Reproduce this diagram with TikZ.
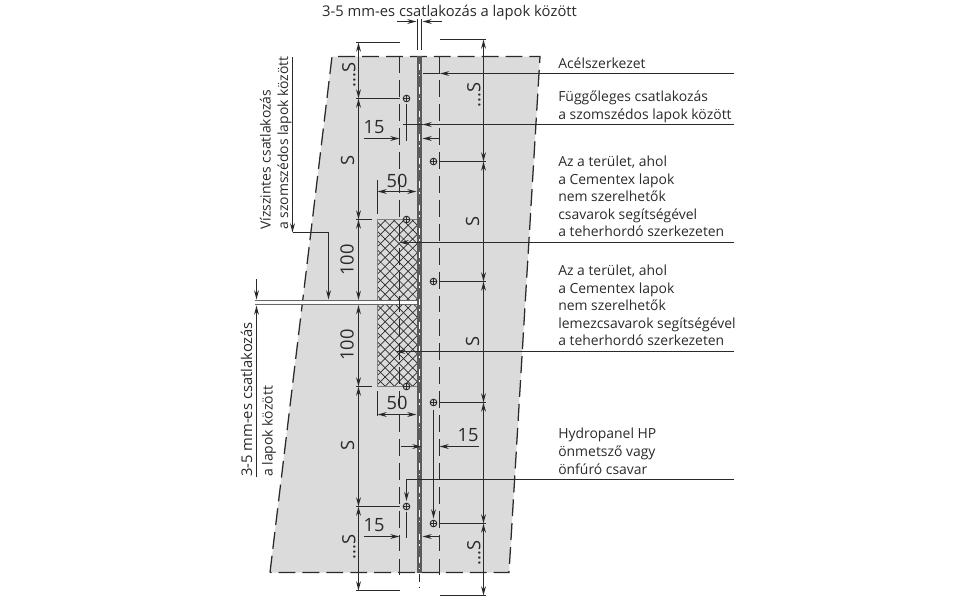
\documentclass[tikz,border=0pt]{standalone}
\usepackage{fontspec}
\setmainfont{Open Sans}
\usetikzlibrary{arrows.meta}
\definecolor{panelgray}{HTML}{DADBDA}
\definecolor{inkdark}{HTML}{2A2A2A}
\definecolor{bandgray}{HTML}{5A5A5A}
\tikzset{
	pline/.style={draw=inkdark,line width=1pt},
	lead/.style={pline,-{Stealth[length=6.5pt,width=3.4pt]}},
	dimboth/.style={pline,{Stealth[length=6.5pt,width=3.4pt]}-{Stealth[length=6.5pt,width=3.4pt]}},
	edge/.style={draw=inkdark,line width=0.9pt,dash pattern=on 12pt off 5pt},
	lbl/.style={anchor=base west,inner sep=0pt,font=\fontsize{9.9pt}{12pt}\selectfont,text=inkdark},
	lblwide/.style={lbl,font=\fontsize{10.5pt}{12pt}\selectfont},
	vlbl/.style={lbl,rotate=90},
	dimtxt/.style={inner sep=0pt,font=\fontsize{13pt}{14pt}\selectfont,text=inkdark},
	vdim/.style={dimtxt,rotate=90}
}
\begin{document}
\begin{tikzpicture}[x=0.025cm,y=-0.025cm]
	\useasboundingbox (0,0) rectangle (960,600);
	\fill[white] (0,0) rectangle (960,600);
	% panels
	\fill[panelgray] (332,56.5) -- (540,56.5) -- (509,572.5) -- (270,572.5) -- cycle;
	\draw[edge] (270,572.5) -- (332,56.5) -- (540,56.5) -- (509,572.5) -- cycle;
	% mesh area
	\begin{scope}
		\clip (377.5,219.5) rectangle (417.5,386.5);
		\foreach \i in {0,...,25} {
			\draw[inkdark,line width=0.5pt] (200+9.2*\i,219.5) -- ++(167,167);
			\draw[inkdark,line width=0.5pt] (377+9.2*\i,219.5) -- ++(-167,167);
		}
	\end{scope}
	\draw[gray,line width=0.6pt] (377.5,219.5) rectangle (417.5,386.5);
	% horizontal gap
	\fill[white!90!panelgray] (255,300.5) rectangle (418,304.5);
	\draw[gray!80!black,line width=1pt] (255,300.5) -- (418,300.5) (255,304.5) -- (418,304.5);
	% lines of the support
	\draw[edge] (399.5,56.5) -- (399.5,575);
	\draw[edge] (439.5,56.5) -- (439.5,575);
	\fill[bandgray] (417,56) rectangle (422,573);
	\draw[white,line width=0.6pt,dash pattern=on 4.5pt off 3pt on 1.2pt off 8pt] (419.5,64) -- (419.5,572);
	\draw[pline,dash pattern=on 6pt off 3pt on 1pt off 3pt] (419.5,574) -- (419.5,592);
	\draw[pline] (417.5,19) -- (417.5,50) (421.5,19) -- (421.5,50);
	% screws
	\foreach \name/\sx/\sy in {sa/406.5/98.5,sb/433.5/161.5,sc/406.5/219.5,sd/433.5/281.5,se/406.5/386.5,sf/433.5/402.5,sg/406.5/506.5,sh/433.5/523.5} {
		\coordinate (\name) at (\sx,\sy);
		\draw[inkdark,fill=panelgray,line width=0.7pt] (\name) circle (3.3);
		\draw[inkdark,line width=0.5pt] (\sx-3.3,\sy) -- (\sx+3.3,\sy) (\sx,\sy-3.3) -- (\sx,\sy+3.3);
	}
	% left chain of dimensions
	\foreach \ya/\yb in {42.5/98.5,98.5/219.5,219.5/300,305/386.5,386.5/506.5,506.5/590.5} {
		\draw[dimboth] (358.5,\ya) -- (358.5,\yb);
	}
	\draw[pline] (356,42.5) -- (400,42.5) (356,98.5) -- (399.5,98.5);
	\draw[pline] (356,219.5) -- (371.5,219.5) (356,386.5) -- (371.5,386.5);
	\draw[pline] (356,506.5) -- (399.5,506.5) (356,590.5) -- (399.5,590.5);
	% right chain of dimensions
	\foreach \ya/\yb in {39.5/161.5,161.5/281.5,281.5/402.5,402.5/523.5,523.5/595.5} {
		\draw[dimboth] (483.5,\ya) -- (483.5,\yb);
	}
	\foreach \yc in {39.5,161.5,281.5,402.5,523.5,595.5} {
		\draw[pline] (439.5,\yc) -- (485.5,\yc);
	}
	% gap at the top
	\draw[lead] (397,21.5) -- (416.5,21.5);
	\draw[lead] (441.7,21.5) -- (422.5,21.5);
	% 50 and 15
	\draw[dimboth] (377.5,191.5) -- (416.5,191.5);
	\draw[pline] (377.5,180) -- (377.5,214);
	\draw[dimboth] (377.5,414.5) -- (416.5,414.5);
	\draw[pline] (377.5,391) -- (377.5,416);
	\draw[lead] (363.5,138.5) -- (399.5,138.5);
	\draw[pline] (406.5,104) -- (406.5,141);
	\draw[lead] (439.5,138.5) -- (422.5,138.5);
	\draw[lead] (363.5,536.5) -- (399.5,536.5);
	\draw[pline] (406.5,511.5) -- (406.5,538);
	\draw[lead] (439.5,536.5) -- (422.5,536.5);
	\draw[lead] (401,446.5) -- (421.5,446.5);
	\draw[lead] (478.5,446.5) -- (439.5,446.5);
	\draw[lead] (433.5,410) -- (433.5,518.5);
	% leaders on the right
	\draw[pline] (440,73.5) -- (423,73.5);
	\draw[lead] (734,73.5) -- (440,73.5);
	\draw[pline] (422.5,124.5) -- (403,124.5);
	\draw[lead] (734,124.5) -- (422.5,124.5);
	\draw[lead] (734,242.5) -- (399.5,242.5);
	\draw[lead] (734,351.5) -- (396,351.5);
	\draw[lead] (734,479.5) -- (406.5,479.5) -- (406.5,501);
	% leaders on the left
	\draw[lead] (292.5,57) -- (292.5,232.5);
	\draw[pline] (292.5,232.5) -- (328.5,232.5);
	\draw[lead] (328.5,232.5) -- (328.5,299.5);
	\draw[lead] (256.5,279) -- (256.5,299.5);
	\draw[lead] (256.5,477) -- (256.5,305.5);
	% labels
	\node[dimtxt] (dimfa) at (374,127) {15};
	\node[dimtxt] (dimfb) at (374,525) {15};
	\node[dimtxt] (dimfc) at (468,435) {15};
	\node[dimtxt] (dimot) at (397,181) {50};
	\node[dimtxt] (dimob) at (397,403) {50};
	\node[vdim] (hundt) at (347,260) {100};
	\node[vdim] (hundb) at (347,345) {100};
	\node[vdim] (sleft) at (347.5,160) {S};
	\node[vdim] (slow) at (347.5,445) {S};
	\node[vdim] (srta) at (472.7,221.7) {S};
	\node[vdim] (srtb) at (472.7,341.7) {S};
	\node[vdim] (stopl) at (349,75) {...S};
	\node[vdim] (sbotl) at (349,547) {...S};
	\node[vdim] (stopr) at (474,95) {...S};
	\node[vdim] (sbotr) at (474,553) {...S};
	\node[lblwide,anchor=base] (gaptop) at (449.5,16) {3-5 mm-es csatlakozás a lapok között};
	\node[lbl] (steel) at (558,68) {Acélszerkezet};
	\node[lbl] (vja) at (558,101.5) {Függőleges csatlakozás};
	\node[lbl] (vjb) at (558,119) {a szomszédos lapok között};
	\node[lbl] (ara) at (558,166) {Az a terület, ahol};
	\node[lbl] (arb) at (558,184) {a Cementex lapok};
	\node[lbl] (arc) at (558,201) {nem szerelhetők};
	\node[lbl] (ard) at (558,219) {csavarok segítségével};
	\node[lbl] (are) at (558,236.5) {a teherhordó szerkezeten};
	\node[lbl] (bra) at (558,275) {Az a terület, ahol};
	\node[lbl] (brb) at (558,293) {a Cementex lapok};
	\node[lbl] (brc) at (558,310) {nem szerelhetők};
	\node[lbl] (brd) at (558,328) {lemezcsavarok segítségével};
	\node[lbl] (bre) at (558,345.5) {a teherhordó szerkezeten};
	\node[lbl] (hya) at (558,438) {Hydropanel HP};
	\node[lbl] (hyb) at (558,456) {önmetsző vagy};
	\node[lbl] (hyc) at (558,474) {önfúró csavar};
	\node[vlbl] (hja) at (270.7,230) {Vízszintes csatlakozás};
	\node[vlbl] (hjb) at (288,230) {a szomszédos lapok között};
	\node[lblwide,rotate=90] (gla) at (252,477) {3-5 mm-es csatlakozás};
	\node[vlbl] (glb) at (272.7,477) {a lapok között};
\end{tikzpicture}
\end{document}
